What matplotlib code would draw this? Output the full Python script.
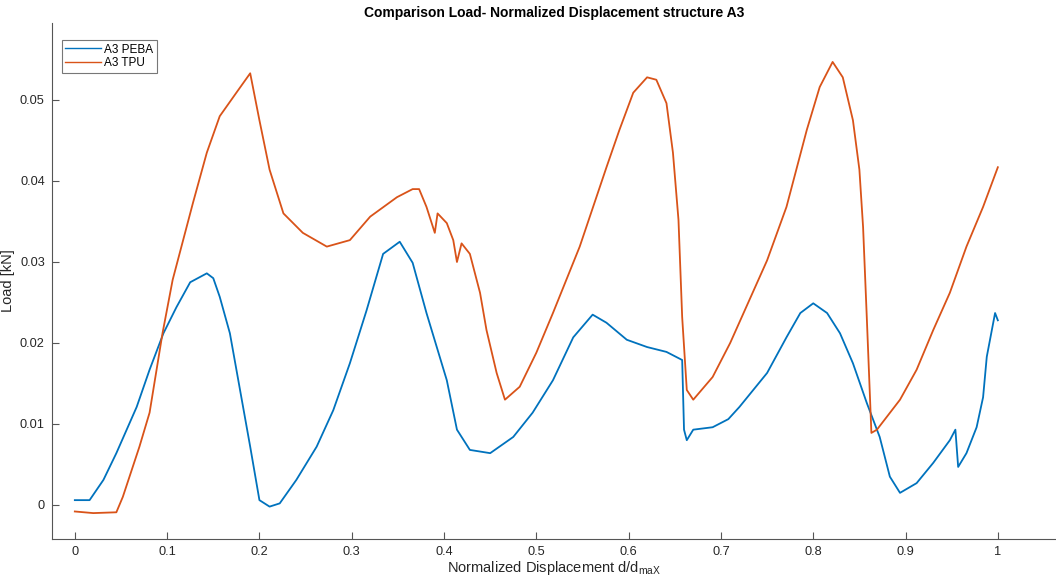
import matplotlib
matplotlib.use("Agg")
import matplotlib.pyplot as plt

# values (d/dmax, kN)
peba_x = [0.0, 0.016, 0.031, 0.045, 0.067, 0.081, 0.096, 0.110, 0.125, 0.143, 0.150,
          0.157, 0.168, 0.179, 0.190, 0.200, 0.211, 0.222, 0.240, 0.262, 0.280, 0.298,
          0.316, 0.334, 0.352, 0.366, 0.381, 0.403, 0.414, 0.428, 0.450, 0.475, 0.496,
          0.518, 0.540, 0.561, 0.576, 0.598, 0.620, 0.641, 0.658, 0.660, 0.663, 0.670,
          0.691, 0.708, 0.720, 0.750, 0.771, 0.786, 0.800, 0.815, 0.829, 0.843, 0.858,
          0.872, 0.883, 0.894, 0.912, 0.930, 0.948, 0.954, 0.957, 0.966, 0.977, 0.984,
          0.988, 0.997, 1.0]
peba_y = [0.0006, 0.0006, 0.0031, 0.0064, 0.0121, 0.0167, 0.0212, 0.0244, 0.0275, 0.0286, 0.0280,
          0.0257, 0.0212, 0.0142, 0.0072, 0.0006, -0.0002, 0.0002, 0.0031, 0.0072, 0.0117, 0.0175,
          0.0240, 0.0310, 0.0325, 0.0299, 0.0237, 0.0154, 0.0093, 0.0068, 0.0064, 0.0084, 0.0114,
          0.0154, 0.0207, 0.0235, 0.0225, 0.0204, 0.0195, 0.0189, 0.0179, 0.0093, 0.0080, 0.0093,
          0.0096, 0.0106, 0.0121, 0.0163, 0.0207, 0.0237, 0.0249, 0.0237, 0.0212, 0.0175, 0.0126,
          0.0084, 0.0035, 0.0015, 0.0027, 0.0052, 0.0080, 0.0093, 0.0047, 0.0064, 0.0096, 0.0133,
          0.0183, 0.0237, 0.0228]

tpu_x = [0.0, 0.02, 0.045, 0.052, 0.070, 0.081, 0.095, 0.106, 0.128, 0.143, 0.157,
         0.175, 0.190, 0.200, 0.211, 0.226, 0.247, 0.273, 0.298, 0.320, 0.349, 0.366,
         0.373, 0.381, 0.390, 0.393, 0.403, 0.410, 0.414, 0.419, 0.428, 0.439, 0.446,
         0.457, 0.466, 0.482, 0.500, 0.518, 0.547, 0.576, 0.590, 0.605, 0.620, 0.630,
         0.641, 0.648, 0.654, 0.658, 0.663, 0.670, 0.691, 0.710, 0.750, 0.771, 0.793,
         0.807, 0.821, 0.832, 0.843, 0.850, 0.854, 0.858, 0.863, 0.869, 0.894, 0.912,
         0.930, 0.948, 0.966, 0.984, 1.0]
tpu_y = [-0.0008, -0.0010, -0.0009, 0.0010, 0.0072, 0.0114, 0.0212, 0.0278, 0.0373, 0.0435, 0.0480,
         0.0509, 0.0533, 0.0475, 0.0414, 0.0360, 0.0336, 0.0319, 0.0327, 0.0356, 0.0380, 0.0390,
         0.0390, 0.0368, 0.0336, 0.0360, 0.0348, 0.0327, 0.0300, 0.0323, 0.0310, 0.0262, 0.0216,
         0.0163, 0.0130, 0.0146, 0.0188, 0.0237, 0.0319, 0.0417, 0.0463, 0.0509, 0.0528, 0.0525,
         0.0496, 0.0435, 0.0352, 0.0232, 0.0142, 0.0130, 0.0158, 0.0200, 0.0302, 0.0368, 0.0463,
         0.0516, 0.0547, 0.0528, 0.0475, 0.0414, 0.0343, 0.0232, 0.0089, 0.0093, 0.0130, 0.0167,
         0.0216, 0.0262, 0.0319, 0.0368, 0.0417]

x_ticks = [0, 0.1, 0.2, 0.3, 0.4, 0.5, 0.6, 0.7, 0.8, 0.9, 1]
x_labels = ["0", "0.1", "0.2", "0.3", "0.4", "0.5", "0.6", "0.7", "0.8", "0.9", "1"]
y_ticks = [0, 0.01, 0.02, 0.03, 0.04, 0.05]
y_labels = ["0", "0.01", "0.02", "0.03", "0.04", "0.05"]

plt.rcParams["font.family"] = ["Liberation Sans", "DejaVu Sans"]
plt.rcParams["mathtext.fontset"] = "custom"
plt.rcParams["mathtext.rm"] = "Liberation Sans"

fig = plt.figure(figsize=(10.56, 5.85), dpi=100)
ax = fig.add_axes([0.049, 0.0786, 0.951, 0.882])

ax.plot(peba_x, peba_y, color="#0072BD", lw=1.3, label="A3 PEBA")
ax.plot(tpu_x, tpu_y, color="#D95319", lw=1.3, label="A3 TPU")

ax.set_xlim(-0.025, 1.063)
ax.set_ylim(-0.0042, 0.0595)
ax.set_xticks(x_ticks, x_labels)
ax.set_yticks(y_ticks, y_labels)

grey = "#262626"
for s in ["top", "right"]:
    ax.spines[s].set_visible(False)
for s in ["left", "bottom"]:
    ax.spines[s].set_color("#555555")
    ax.spines[s].set_linewidth(0.8)
ax.tick_params(direction="in", length=5, width=0.8, colors="#555555",
               labelcolor=grey, labelsize=9.2, pad=5)

ax.set_title("Comparison Load- Normalized Displacement structure A3",
             fontsize=10, fontweight="bold", color="black", pad=4.5)
ax.set_xlabel(r"Normalized Displacement d/d$_{\rm maX}$", fontsize=10.5, color=grey, labelpad=1)
ax.set_ylabel("Load [kN]", fontsize=10.5, color=grey)
ax.yaxis.set_label_coords(-0.037, 0.5)

leg = ax.legend(loc="upper left", fontsize=8.5, frameon=True, fancybox=False,
                handlelength=3.0, handletextpad=0.3, borderpad=0.3, labelspacing=0.15,
                borderaxespad=0, bbox_to_anchor=(0.01, 0.967))
leg.get_frame().set_edgecolor("#555555")
leg.get_frame().set_linewidth(0.8)
for line in leg.get_lines():
    line.set_linewidth(1.0)

fig.savefig("out.png", dpi=100)
